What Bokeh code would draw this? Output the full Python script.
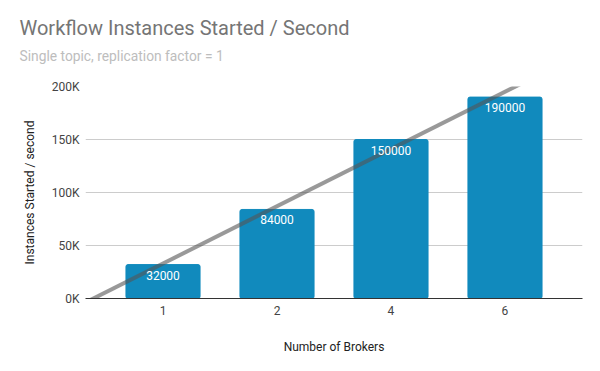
import numpy as np
from bokeh.plotting import figure
from bokeh.models import ColumnDataSource, Range1d, FixedTicker, Title, LabelSet
from bokeh.embed import file_html
from bokeh.resources import INLINE
from bokeh.core.properties import value

brokers = ["1", "2", "4", "6"]
instances = [32000, 84000, 150000, 190000]
y_ticks = [0, 50000, 100000, 150000, 200000]
y_tick_labels = ["0K", "50K", "100K", "150K", "200K"]
title = "Workflow Instances Started / Second"
subtitle = "Single topic, replication factor = 1"

xs = list(range(len(brokers)))
labels = [str(v) for v in instances]
src = ColumnDataSource(dict(x=xs, y=instances, lab=labels))

p = figure(width=584, height=355, output_backend="svg", toolbar_location=None,
           x_range=Range1d(-0.68, 3.68), y_range=Range1d(0, 200000),
           frame_width=497, frame_height=212,
           min_border_left=85, min_border_right=2, min_border_bottom=65, min_border_top=86)
p.outline_line_color = None
p.background_fill_color = "white"

p.vbar(x="x", top="y", width=0.65, bottom=0, source=src, color="#118ABD", border_radius=2)

# linear trendline on category index (1-based), as the spreadsheet draws it
xi = np.arange(1, len(instances) + 1)
slope, intercept = np.polyfit(xi, instances, 1)
tx = np.array([-0.68, 3.68])
ty = slope * (tx + 1) + intercept
p.line(tx, ty, line_color="#555555", line_alpha=0.6, line_width=4)

p.add_layout(LabelSet(x="x", y="y", text="lab", source=src, text_color="white",
                      text_font=value("Roboto"), text_font_size="12px",
                      text_align="center", text_baseline="top", y_offset=-6))

# spacer nearest the frame, then subtitle, then title
p.add_layout(Title(text=" ", text_font="Roboto", text_font_size="1px",
                   standoff=14), "above")
p.add_layout(Title(text=subtitle, text_font="Roboto",
                   text_font_size="13.8px", text_font_style="normal", text_color="#bdbdbd",
                   offset=-66, standoff=12), "above")
p.add_layout(Title(text=title, text_font="Roboto",
                   text_font_size="20px", text_font_style="normal", text_color="#757575",
                   offset=-66, standoff=0), "above")

# axes
p.xaxis.ticker = FixedTicker(ticks=xs)
p.xaxis.major_label_overrides = {i: b for i, b in enumerate(brokers)}
p.xaxis.axis_line_color = "#333333"
p.xaxis.major_tick_line_color = None
p.xaxis.major_tick_out = 0
p.xaxis.major_tick_in = 0
p.xaxis.minor_tick_line_color = None
p.xaxis.major_label_text_font = "Roboto"
p.xaxis.major_label_text_font_size = "12px"
p.xaxis.major_label_text_color = "#444444"
p.xaxis.major_label_standoff = 7
p.xaxis.axis_label = "Number of Brokers"
p.xaxis.axis_label_text_font = "Roboto"
p.xaxis.axis_label_text_font_size = "12px"
p.xaxis.axis_label_text_font_style = "normal"
p.xaxis.axis_label_text_color = "#222222"
p.xaxis.axis_label_standoff = 22

p.yaxis.ticker = FixedTicker(ticks=y_ticks)
p.yaxis.major_label_overrides = {t: l for t, l in zip(y_ticks, y_tick_labels)}
p.yaxis.axis_line_color = None
p.yaxis.major_tick_line_color = None
p.yaxis.major_tick_out = 0
p.yaxis.major_tick_in = 0
p.yaxis.minor_tick_line_color = None
p.yaxis.major_label_text_font = "Roboto"
p.yaxis.major_label_text_font_size = "12px"
p.yaxis.major_label_text_color = "#444444"
p.yaxis.major_label_standoff = 6
p.yaxis.axis_label = "Instances Started / second"
p.yaxis.axis_label_text_font = "Roboto"
p.yaxis.axis_label_text_font_size = "12px"
p.yaxis.axis_label_text_font_style = "normal"
p.yaxis.axis_label_text_color = "#222222"
p.yaxis.axis_label_standoff = 12

p.xgrid.grid_line_color = None
p.ygrid.grid_line_color = "#cccccc"
p.ygrid.ticker = FixedTicker(ticks=y_ticks)

open("out.html", "w").write(file_html(p, INLINE))
